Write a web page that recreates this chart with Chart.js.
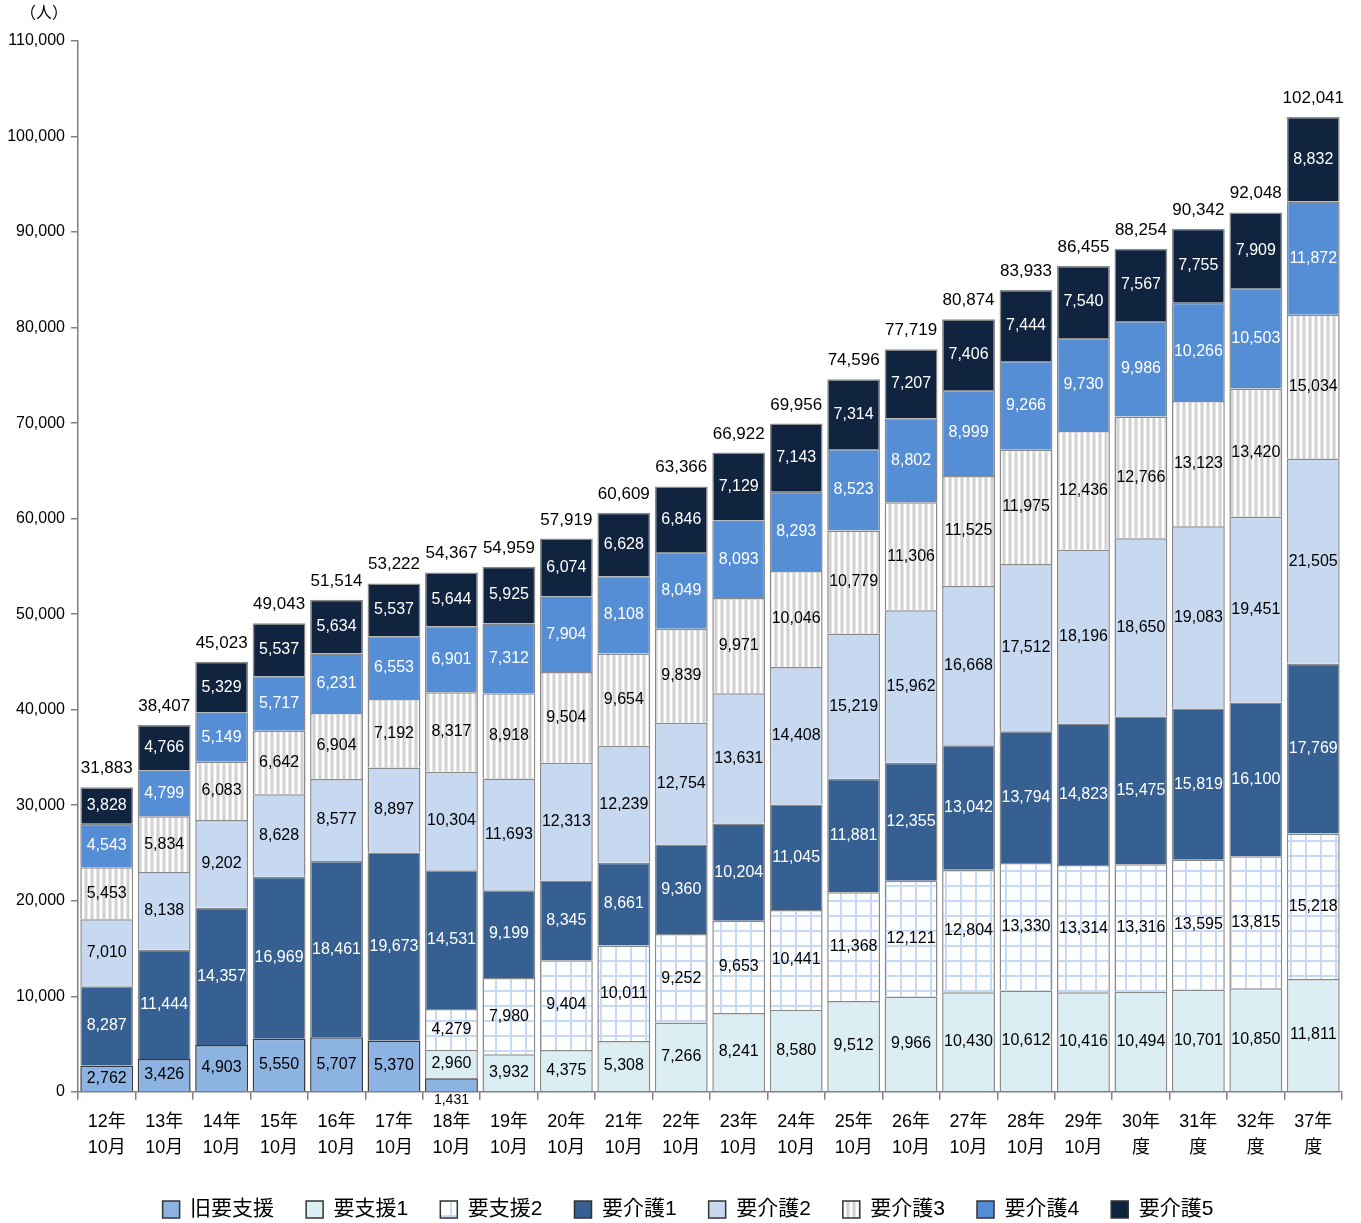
<!DOCTYPE html>
<html lang="ja">
<head>
<meta charset="utf-8">
<title>要介護認定者数の推移</title>
<script src="https://cdn.jsdelivr.net/npm/chart.js@4.4.1/dist/chart.umd.min.js"></script>
<style>
  html, body { margin: 0; padding: 0; background: #fff; }
</style>
</head>
<body>
<canvas id="care" width="1361" height="1223"></canvas>
<script>
const FONT = '"Liberation Sans", "Noto Sans CJK JP", sans-serif';

// --- DATA ---
const periods = [
  ['12年','10月'], ['13年','10月'], ['14年','10月'], ['15年','10月'], ['16年','10月'],
  ['17年','10月'], ['18年','10月'], ['19年','10月'], ['20年','10月'], ['21年','10月'],
  ['22年','10月'], ['23年','10月'], ['24年','10月'], ['25年','10月'], ['26年','10月'],
  ['27年','10月'], ['28年','10月'], ['29年','10月'], ['30年','度'], ['31年','度'],
  ['32年','度'], ['37年','度']
];
const _ = null;
const kyuShien = [2762, 3426, 4903, 5550, 5707, 5370, 1431, _, _, _, _, _, _, _, _, _, _, _, _, _, _, _];
const shien1 = [_, _, _, _, _, _, 2960, 3932, 4375, 5308, 7266, 8241, 8580, 9512, 9966, 10430, 10612, 10416, 10494, 10701, 10850, 11811];
const shien2 = [_, _, _, _, _, _, 4279, 7980, 9404, 10011, 9252, 9653, 10441, 11368, 12121, 12804, 13330, 13314, 13316, 13595, 13815, 15218];
const kaigo1 = [8287, 11444, 14357, 16969, 18461, 19673, 14531, 9199, 8345, 8661, 9360, 10204, 11045, 11881, 12355, 13042, 13794, 14823, 15475, 15819, 16100, 17769];
const kaigo2 = [7010, 8138, 9202, 8628, 8577, 8897, 10304, 11693, 12313, 12239, 12754, 13631, 14408, 15219, 15962, 16668, 17512, 18196, 18650, 19083, 19451, 21505];
const kaigo3 = [5453, 5834, 6083, 6642, 6904, 7192, 8317, 8918, 9504, 9654, 9839, 9971, 10046, 10779, 11306, 11525, 11975, 12436, 12766, 13123, 13420, 15034];
const kaigo4 = [4543, 4799, 5149, 5717, 6231, 6553, 6901, 7312, 7904, 8108, 8049, 8093, 8293, 8523, 8802, 8999, 9266, 9730, 9986, 10266, 10503, 11872];
const kaigo5 = [3828, 4766, 5329, 5537, 5634, 5537, 5644, 5925, 6074, 6628, 6846, 7129, 7143, 7314, 7207, 7406, 7444, 7540, 7567, 7755, 7909, 8832];
const totals = [31883, 38407, 45023, 49043, 51514, 53222, 54367, 54959, 57919, 60609, 63366, 66922, 69956, 74596, 77719, 80874, 83933, 86455, 88254, 90342, 92048, 102041];
const yTicks = [0, 10000, 20000, 30000, 40000, 50000, 60000, 70000, 80000, 90000, 100000, 110000];

// --- PATTERNS ---
function gridPattern() {
  const c = document.createElement('canvas');
  c.width = 15; c.height = 15;
  const g = c.getContext('2d');
  g.fillStyle = '#ffffff'; g.fillRect(0, 0, 15, 15);
  g.fillStyle = '#c6daf3';
  g.fillRect(0, 0, 2, 15);
  g.fillRect(0, 0, 15, 2);
  return g.createPattern(c, 'repeat');
}
function stripePattern() {
  const c = document.createElement('canvas');
  c.width = 6; c.height = 4;
  const g = c.getContext('2d');
  g.fillStyle = '#ffffff'; g.fillRect(0, 0, 6, 4);
  g.fillStyle = '#e6e6e6'; g.fillRect(0, 0, 1, 4);
  g.fillStyle = '#d2d2d2'; g.fillRect(1, 0, 2, 4);
  g.fillStyle = '#e6e6e6'; g.fillRect(3, 0, 1, 4);
  return g.createPattern(c, 'repeat');
}

const EDGE = '#8a8a8a';
const series = [
  { label: '旧要支援', data: kyuShien, bg: '#8db3e2', border: '#3a3a3a', text: '#000' },
  { label: '要支援1', data: shien1, bg: '#dbeef4', border: EDGE, text: '#000' },
  { label: '要支援2', data: shien2, bg: gridPattern(), border: EDGE, text: '#000' },
  { label: '要介護1', data: kaigo1, bg: '#366092', border: EDGE, text: '#fff' },
  { label: '要介護2', data: kaigo2, bg: '#c6d9f1', border: EDGE, text: '#000' },
  { label: '要介護3', data: kaigo3, bg: stripePattern(), border: EDGE, text: '#000' },
  { label: '要介護4', data: kaigo4, bg: '#558ed5', border: EDGE, text: '#fff' },
  { label: '要介護5', data: kaigo5, bg: '#10243f', border: EDGE, text: '#fff' }
];

const fmt = v => v.toLocaleString('en-US');

// segment values, totals and the unit caption
const valueLabels = {
  id: 'valueLabels',
  afterLayout(chart) {
    // nudge the legend row a little to the right
    chart.legend.left += 17;
    chart.legend.right += 17;
  },
  afterDatasetsDraw(chart) {
    const ctx = chart.ctx;
    ctx.save();
    ctx.textAlign = 'center';
    ctx.textBaseline = 'middle';
    ctx.font = '16px ' + FONT;
    chart.data.datasets.forEach((ds, i) => {
      const meta = chart.getDatasetMeta(i);
      meta.data.forEach((bar, j) => {
        const v = ds.data[j];
        if (v == null) return;
        const h = Math.abs(bar.base - bar.y);
        if (h < 20) {
          ctx.fillStyle = '#000';
          ctx.font = '14px ' + FONT;
          ctx.fillText(fmt(v), bar.x, bar.base + 9);
          ctx.font = '16px ' + FONT;
        } else {
          ctx.fillStyle = series[i].text;
          ctx.fillText(fmt(v), bar.x, (bar.y + bar.base) / 2);
        }
      });
    });
    const last = chart.getDatasetMeta(chart.data.datasets.length - 1);
    ctx.fillStyle = '#000';
    ctx.font = '17px ' + FONT;
    ctx.textBaseline = 'alphabetic';
    last.data.forEach((bar, j) => {
      ctx.fillText(fmt(totals[j]), bar.x, bar.y - 14);
    });
    ctx.font = '16px ' + FONT;
    ctx.textAlign = 'left';
    ctx.textBaseline = 'middle';
    ctx.fillText('（人）', 20, 14);
    ctx.restore();
  }
};

new Chart(document.getElementById('care'), {
  type: 'bar',
  data: {
    labels: periods,
    datasets: series.map(s => ({
      label: s.label,
      data: s.data,
      backgroundColor: s.bg,
      borderColor: s.border,
      borderWidth: 1.5,
      barPercentage: 0.92,
      categoryPercentage: 1.0
    }))
  },
  options: {
    responsive: false,
    animation: false,
    layout: { padding: { top: 41, right: 19, left: 0, bottom: -7 } },
    plugins: {
      tooltip: { enabled: false },
      legend: {
        position: 'bottom',
        labels: {
          boxWidth: 17,
          boxHeight: 17,
          padding: 32,
          color: '#000',
          font: { family: FONT, size: 21 },
          generateLabels(chart) {
            return chart.data.datasets.map((ds, i) => ({
              text: ds.label,
              fillStyle: ds.backgroundColor,
              strokeStyle: '#333',
              lineWidth: 1.5,
              datasetIndex: i
            }));
          }
        }
      }
    },
    scales: {
      x: {
        stacked: true,
        afterFit(scale) { scale.height -= 3; },
        grid: { drawOnChartArea: false, drawTicks: true, tickLength: 8, color: '#808080', lineWidth: 1.5 },
        border: { color: '#808080', width: 1.5 },
        ticks: { color: '#000', font: { family: FONT, size: 18, lineHeight: 1.45 }, padding: 9, maxRotation: 0, autoSkip: false }
      },
      y: {
        stacked: true,
        min: 0,
        max: 110000,
        afterBuildTicks(scale) { scale.ticks = yTicks.map(v => ({ value: v })); },
        afterFit(scale) { scale.width = 78; },
        grid: { drawOnChartArea: false, drawTicks: true, tickLength: 7, color: '#808080', lineWidth: 1.5 },
        border: { color: '#808080', width: 1.5 },
        ticks: { color: '#000', font: { family: FONT, size: 16 }, padding: 6, callback: v => fmt(v) }
      }
    }
  },
  plugins: [valueLabels]
});
</script>
</body>
</html>
